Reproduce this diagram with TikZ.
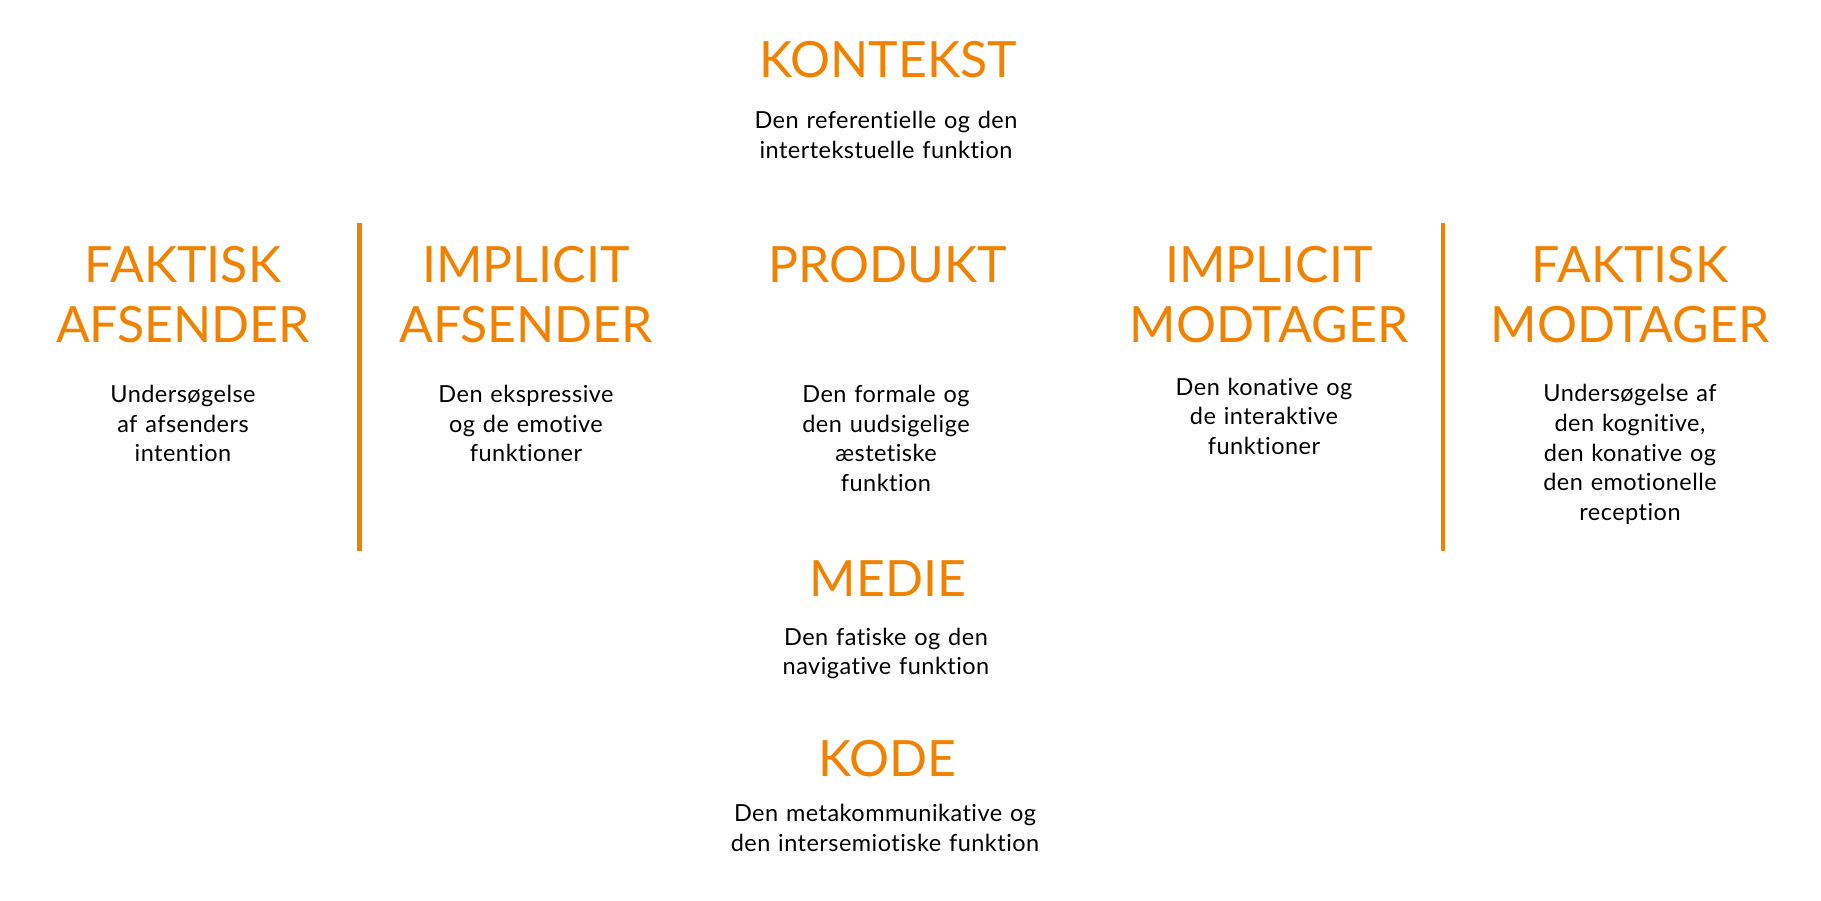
\documentclass[tikz,border=0pt]{standalone}
\usepackage{fontspec}
\setmainfont{Lato}[Ligatures={NoCommon,NoContextual,NoDiscretionary}, RawFeature={-liga;-clig;-dlig}]
\newfontfamily\bodyfont{Lato}[LetterSpace=2.0, Ligatures={NoCommon,NoContextual,NoDiscretionary}, RawFeature={-liga;-clig;-dlig}]
\definecolor{orng}{RGB}{240,130,0}
\tikzset{
  head/.style={anchor=base, inner sep=0pt, text width=500pt, align=center,
    text=orng, font=\fontsize{50}{60}\selectfont},
  body/.style={anchor=base, inner sep=0pt, text width=500pt, align=center,
    text=black, font=\bodyfont\fontsize{23.5}{29.7}\selectfont},
  divider/.style={draw=orng, line width=4.7pt}
}
\begin{document}
\begin{tikzpicture}[x=1pt,y=-1pt]
\useasboundingbox (0,0) rectangle (1821,900);
% top
\node[head] (kontekst) at (888,77.3) {KONTEKST};
\node[body] (kontekstb) at (886,128.3) {Den referentielle og den\\intertekstuelle funktion};
% row
\node[head] (fa) at (183,282.7) {FAKTISK\\AFSENDER};
\node[body] (fab) at (183,402.3) {Undersøgelse\\af afsenders\\intention};
\node[head] (ia) at (526,282.7) {IMPLICIT\\AFSENDER};
\node[body] (iab) at (526,402.3) {Den ekspressive\\og de emotive\\funktioner};
\node[head] (produkt) at (888,282.7) {PRODUKT};
\node[body] (produktb) at (886,402.3) {Den formale og\\den uudsigelige\\æstetiske\\funktion};
\node[head] (im) at (1269,282.7) {IMPLICIT\\MODTAGER};
\node[body] (imb) at (1264,395) {Den konative og\\de interaktive\\funktioner};
\node[head] (fm) at (1630,282.7) {FAKTISK\\MODTAGER};
\node[body] (fmb) at (1630,401.7) {Undersøgelse af\\den kognitive,\\den konative og\\den emotionelle\\reception};
% bottom
\node[head] (medie) at (888,596.7) {MEDIE};
\node[body] (medieb) at (886,645) {Den fatiske og den\\navigative funktion};
\node[head] (kode) at (887,776) {KODE};
\node[body] (kodeb) at (885,821.7) {Den metakommunikative og\\den intersemiotiske funktion};
% dividers
\coordinate (d1t) at (359.5,223);
\coordinate (d1b) at (359.5,550.7);
\coordinate (d2t) at (1443,223);
\coordinate (d2b) at (1443,550.7);
\draw[divider] (d1t) -- (d1b);
\draw[divider] (d2t) -- (d2b);
\end{tikzpicture}
\end{document}
